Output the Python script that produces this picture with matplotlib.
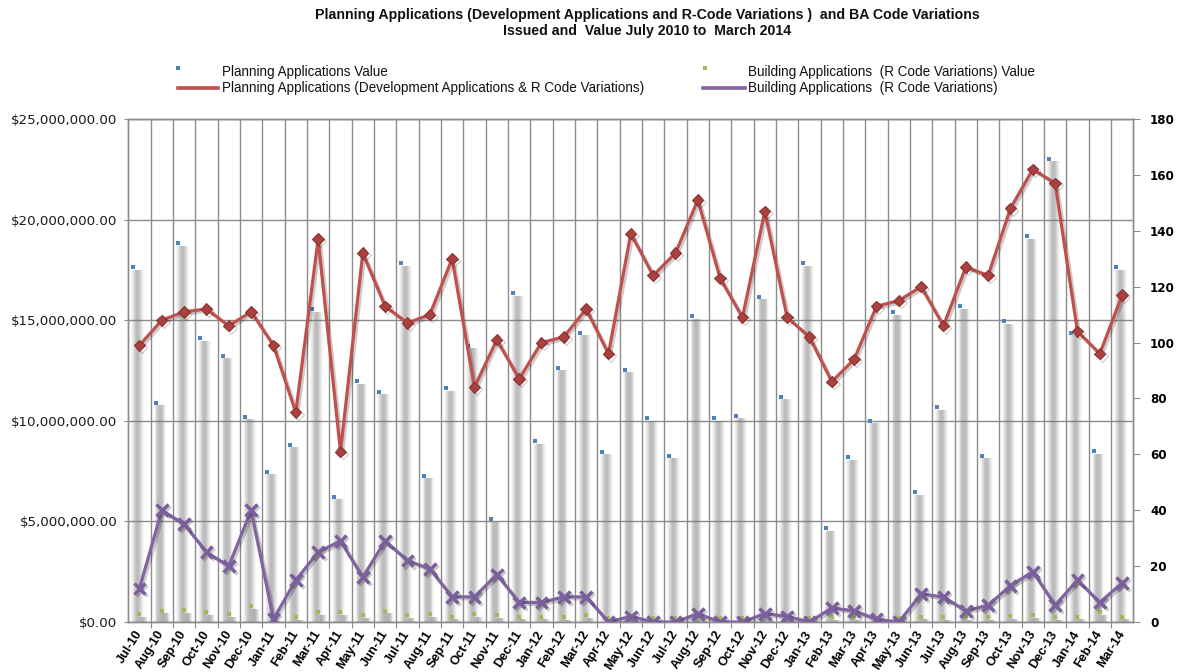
import numpy as np
import matplotlib
matplotlib.use("Agg")
import matplotlib.pyplot as plt
from matplotlib import font_manager
from matplotlib.lines import Line2D
import matplotlib.patheffects as pe
import matplotlib.transforms as mtransforms
from matplotlib.ticker import FuncFormatter

# ---------------- data ----------------
months = ["Jul-10", "Aug-10", "Sep-10", "Oct-10", "Nov-10", "Dec-10", "Jan-11", "Feb-11",
          "Mar-11", "Apr-11", "May-11", "Jun-11", "Jul-11", "Aug-11", "Sep-11", "Oct-11",
          "Nov-11", "Dec-11", "Jan-12", "Feb-12", "Mar-12", "Apr-12", "May-12", "Jun-12",
          "Jul-12", "Aug-12", "Sep-12", "Oct-12", "Nov-12", "Dec-12", "Jan-13", "Feb-13",
          "Mar-13", "Apr-13", "May-13", "Jun-13", "Jul-13", "Aug-13", "Sep-13", "Oct-13",
          "Nov-13", "Dec-13", "Jan-14", "Feb-14", "Mar-14"]

# Planning Applications Value ($ millions)
planning_value = [17.5, 10.78, 18.71, 13.98, 13.12, 10.08, 7.35, 8.69, 15.42, 6.1,
                  11.83, 11.33, 17.71, 7.15, 11.49, 13.6, 4.99, 16.22, 8.86, 12.52,
                  14.26, 8.34, 12.42, 10.0, 8.14, 15.06, 10.0, 10.13, 16.05, 11.08,
                  17.71, 4.54, 8.06, 9.89, 15.26, 6.32, 10.55, 15.57, 8.14, 14.83,
                  19.04, 22.89, 14.26, 8.36, 17.51]

# Building Applications (R Code Variations) Value ($ millions)
building_value = [0.27, 0.43, 0.47, 0.37, 0.27, 0.66, 0.05, 0.1, 0.37, 0.37,
                  0.2, 0.43, 0.2, 0.27, 0.13, 0.27, 0.2, 0.13, 0.13, 0.1,
                  0.2, 0.05, 0.1, 0.05, 0.05, 0.15, 0.05, 0.05, 0.15, 0.1,
                  0.05, 0.1, 0.1, 0.05, 0.05, 0.13, 0.1, 0.1, 0.1, 0.17,
                  0.2, 0.1, 0.13, 0.37, 0.13]

# Planning Applications (Development Applications & R Code Variations) - count
planning_count = [99, 108, 111, 112, 106, 111, 99, 75, 137, 61,
                  132, 113, 107, 110, 130, 84, 101, 87, 100, 102,
                  112, 96, 139, 124, 132, 151, 123, 109, 147, 109,
                  102, 86, 94, 113, 115, 120, 106, 127, 124, 148,
                  162, 157, 104, 96, 117]

# Building Applications (R Code Variations) - count
building_count = [12, 40, 35, 25, 20, 40, 1, 15, 25, 29,
                  16, 29, 22, 19, 9, 9, 17, 7, 7, 9,
                  9, 0, 2, 0, 0, 3, 0, 0, 3, 2,
                  0, 5, 4, 1, 0, 10, 9, 4, 6, 13,
                  18, 6, 15, 7, 14]

title_lines = ["Planning Applications (Development Applications and R-Code Variations )  and BA Code Variations",
               "Issued and  Value July 2010 to  March 2014"]
legend_labels = ["Planning Applications Value",
                 "Planning Applications (Development Applications & R Code Variations)",
                 "Building Applications  (R Code Variations) Value",
                 "Building Applications  (R Code Variations)"]

# ---------------- fonts ----------------
avail = {f.name for f in font_manager.fontManager.ttflist}
narrow = "Liberation Sans Narrow" if "Liberation Sans Narrow" in avail else "Liberation Sans"

W, H = 1180, 672
fig = plt.figure(figsize=(W / 100, H / 100), dpi=100)
L, R, T, B = 128.3, 1133.3, 119.0, 622.0
ax = fig.add_axes([L / W, 1 - B / H, (R - L) / W, (B - T) / H])
ax2 = ax.twinx()

x = np.arange(len(months))
pv = np.array(planning_value) * 1e6
bv = np.array(building_value) * 1e6

GRID = "#8c8c8c"

# blurred grey bars (soft-shadow look)
layers = [(0.56, 0.06), (0.48, 0.08), (0.40, 0.10), (0.32, 0.12), (0.24, 0.14), (0.16, 0.14)]
for w, a in layers:
    ax.bar(x - 0.08, pv, width=w, color="#7a7a7a", alpha=a, linewidth=0, zorder=2)
    ax.bar(x + 0.16, bv, width=w * 0.8, color="#7a7a7a", alpha=a, linewidth=0, zorder=2)

up = mtransforms.offset_copy(ax.transData, fig=fig, x=0, y=2.5, units="dots")
ax.plot(x - 0.27, pv, "s", ms=2.3, color="#4F81BD", mew=0, transform=up, zorder=3)
ax.plot(x, bv, "s", ms=2.3, color="#9BBB59", mew=0, transform=up, zorder=3)

ax.set_xlim(-0.5, len(months) - 0.5)
ax.set_ylim(0, 25e6)
ax.set_yticks(np.arange(0, 25e6 + 1, 5e6))
ax.yaxis.set_major_formatter(FuncFormatter(lambda v, p: "${:,.2f}".format(v)))
ax.tick_params(axis="y", direction="out", length=3, color=GRID, labelsize=9.6, pad=5,
               labelcolor="#1a1a1a")

# vertical grid at category boundaries, labels at centres
ax.set_xticks(np.arange(0.5, len(months) - 1, 1))
ax.set_xticklabels([])
ax.tick_params(axis="x", which="major", direction="out", length=4, color=GRID)
ax.set_xticks(x, minor=True)
ax.set_xticklabels(months, minor=True)
ax.tick_params(axis="x", which="minor", length=0, pad=7)
for lab in ax.get_xticklabels(minor=True):
    lab.set_rotation(58)
    lab.set_ha("right")
    lab.set_va("center")
    lab.set_rotation_mode("anchor")
    lab.set_fontfamily(narrow)
    lab.set_fontweight("bold")
    lab.set_fontsize(9.2)
ax.grid(True, which="major", axis="both", color=GRID, linewidth=1.0, zorder=0)
ax.set_axisbelow(True)

for a_ in (ax, ax2):
    for s in a_.spines.values():
        s.set_color(GRID)
        s.set_linewidth(1.0)

# lines on secondary axis
shadow = [pe.SimpleLineShadow(offset=(1.5, -1.5), alpha=0.2, shadow_color="black"), pe.Normal()]
ax2.plot(x, planning_count, color="#C0504D", lw=2.3, marker="D", ms=5.8,
         mfc="#A8413F", mec="#8A3230", mew=0.8, zorder=5, path_effects=shadow)
ax2.plot(x, building_count, color="#8064A2", lw=2.3, marker="x", ms=8.5, mew=2.5,
         mec="#7A5F9C", zorder=5, path_effects=shadow)
ax2.set_ylim(0, 180)
ax2.set_yticks(np.arange(0, 181, 20))
ax2.tick_params(axis="y", direction="out", length=5, color=GRID, labelsize=8.6, pad=7)
for lab in ax2.get_yticklabels():
    lab.set_fontweight("bold")
ax2.set_xlim(ax.get_xlim())

# ---------------- title ----------------
r = fig.canvas.get_renderer()


def fit(t, target):
    bb = t.get_window_extent(r)
    t.set_fontsize(t.get_fontsize() * target / bb.width)


t1 = fig.text(647 / W, 1 - 15 / H, title_lines[0], ha="center", va="center",
              fontweight="bold", family=narrow, fontsize=10, color="#111111")
fit(t1, 666)
t2 = fig.text(647 / W, 1 - 31 / H, title_lines[1], ha="center", va="center",
              fontweight="bold", family=narrow, fontsize=t1.get_fontsize(), color="#111111")

# ---------------- legend ----------------
lx1, lx2 = 222, 748
ly1, ly2 = 72, 88
lt = [fig.text(lx1 / W, 1 - ly1 / H, legend_labels[0], va="center", ha="left", family="Liberation Sans", fontsize=9),
      fig.text(lx1 / W, 1 - ly2 / H, legend_labels[1], va="center", ha="left", family="Liberation Sans", fontsize=9),
      fig.text(lx2 / W, 1 - ly1 / H, legend_labels[2], va="center", ha="left", family="Liberation Sans", fontsize=9),
      fig.text(lx2 / W, 1 - ly2 / H, legend_labels[3], va="center", ha="left", family="Liberation Sans", fontsize=9)]
fit(lt[1], 426)
for t in lt:
    t.set_fontsize(lt[1].get_fontsize())
    t.set_color("#111111")

fig.add_artist(Line2D([178 / W, 218 / W], [1 - ly2 / H] * 2, color="#C0504D", lw=2.6,
                      transform=fig.transFigure))
fig.add_artist(Line2D([703 / W, 745 / W], [1 - ly2 / H] * 2, color="#8064A2", lw=2.6,
                      transform=fig.transFigure))
fig.add_artist(Line2D([178 / W], [1 - 68 / H], marker="s", ms=2.3, color="#4F81BD", mew=0,
                      transform=fig.transFigure))
fig.add_artist(Line2D([705 / W], [1 - 68 / H], marker="s", ms=2.3, color="#9BBB59", mew=0,
                      transform=fig.transFigure))

fig.savefig("out.png", dpi=100)
